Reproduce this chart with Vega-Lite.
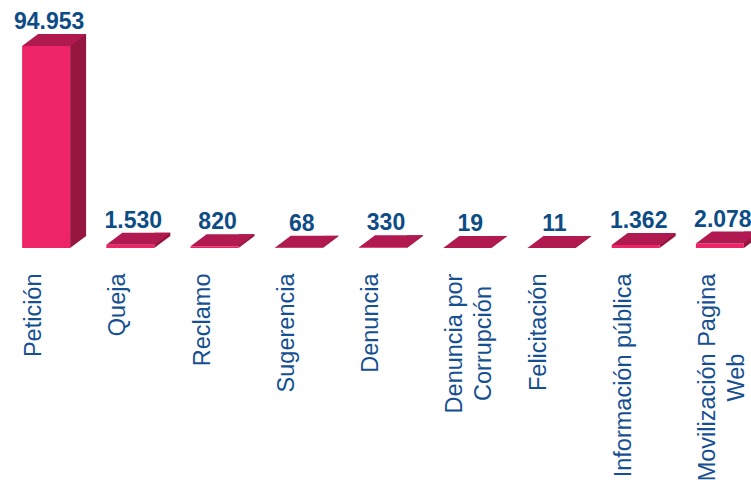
{
  "$schema": "https://vega.github.io/schema/vega-lite/v6.json",
  "width": 758,
  "height": 202,
  "padding": {"left": 4, "top": 46, "right": 0, "bottom": 236},
  "autosize": {"type": "none"},
  "config": {
    "view": {"stroke": null},
    "locale": {"number": {"decimal": ",", "thousands": ".", "grouping": [3], "currency": ["", ""]}}
  },
  "data": {
    "values": [
      {"tipo": "Petición", "cantidad": 94953},
      {"tipo": "Queja", "cantidad": 1530},
      {"tipo": "Reclamo", "cantidad": 820},
      {"tipo": "Sugerencia", "cantidad": 68},
      {"tipo": "Denuncia", "cantidad": 330},
      {"tipo": "Denuncia por Corrupción", "cantidad": 19},
      {"tipo": "Felicitación", "cantidad": 11},
      {"tipo": "Información pública", "cantidad": 1362},
      {"tipo": "Movilización Pagina Web", "cantidad": 2078}
    ]
  },
  "encoding": {
    "x": {
      "field": "tipo",
      "type": "nominal",
      "sort": null,
      "scale": {"paddingInner": 0, "paddingOuter": 0},
      "axis": {
        "title": null,
        "domain": false,
        "ticks": false,
        "tickSize": 0,
        "grid": false,
        "labelFont": "Liberation Sans",
        "labelFontSize": 23.5,
        "labelColor": "#165091",
        "labelAngle": -90,
        "labelBaseline": "middle",
        "labelAlign": {"condition": {"test": "datum.value === 'Denuncia por Corrupción' || datum.value === 'Movilización Pagina Web'", "value": "center"}, "value": "right"},
        "labelPadding": {"condition": [{"test": "datum.value === 'Denuncia por Corrupción'", "value": 95}, {"test": "datum.value === 'Movilización Pagina Web'", "value": 129}], "value": 25},
        "labelOffset": -12,
        "labelLimit": 0,
        "labelOverlap": false,
        "labelLineHeight": 29,
        "labelExpr": "datum.value === 'Denuncia por Corrupción' ? ['Denuncia por', 'Corrupción'] : datum.value === 'Movilización Pagina Web' ? ['Movilización Pagina', 'Web'] : datum.label"
      }
    },
    "y": {
      "field": "cantidad",
      "type": "quantitative",
      "scale": {"domain": [0, 94953], "nice": false},
      "axis": null
    }
  },
  "layer": [
    {
      "mark": {"type": "bar", "width": 16, "xOffset": 32, "yOffset": -12, "y2Offset": -12, "color": "#95163F"},
      "encoding": {"y2": {"datum": 0}}
    },
    {
      "mark": {"type": "point", "shape": "M24,-12L24,0L40,-12Z", "size": 4, "filled": true, "opacity": 1, "color": "#95163F", "strokeWidth": 0},
      "encoding": {"y": {"datum": 0, "type": "quantitative"}}
    },
    {
      "mark": {"type": "bar", "width": 48, "color": "#EE2468"}
    },
    {
      "mark": {"type": "point", "shape": "M-24,0L24,0L40,-12L-8,-12Z", "size": 4, "filled": true, "opacity": 1, "color": "#B01A50", "strokeWidth": 0}
    },
    {
      "mark": {"type": "text", "dx": 3, "dy": -17, "baseline": "alphabetic", "align": "center", "font": "Liberation Sans", "fontWeight": "bold", "fontSize": 23, "color": "#0E4C86"},
      "encoding": {"text": {"field": "cantidad", "type": "quantitative", "format": ",d"}}
    }
  ]
}
